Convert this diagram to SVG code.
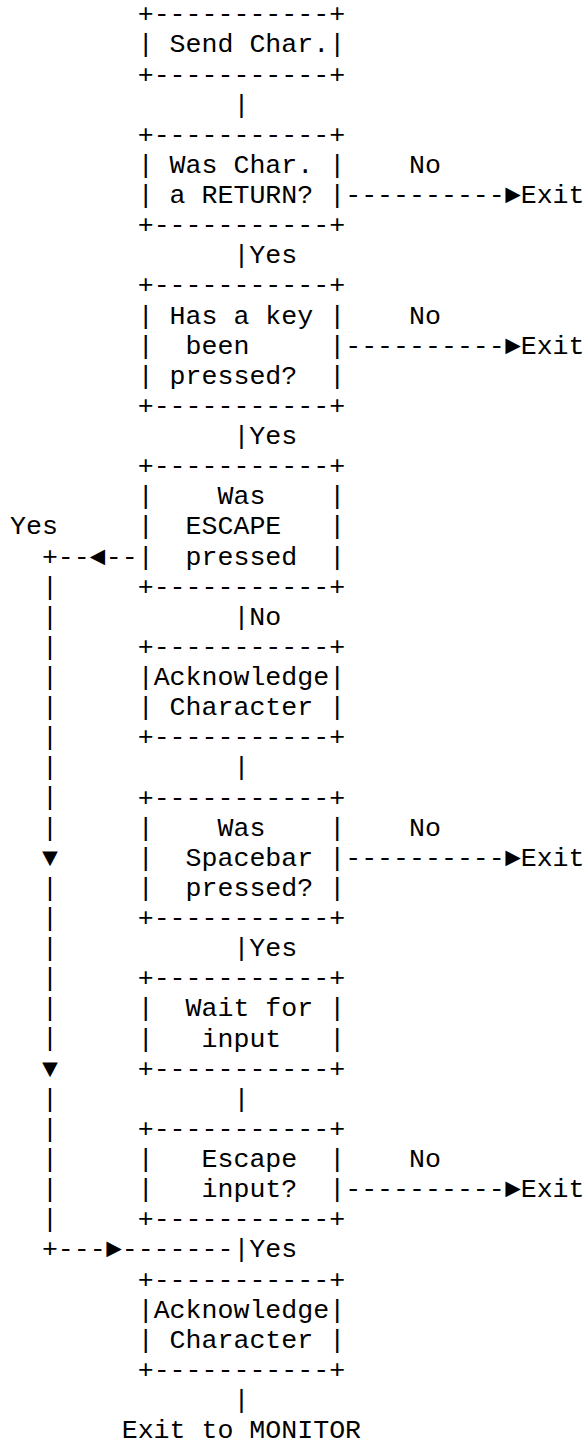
<svg xmlns="http://www.w3.org/2000/svg" width="588" height="1446" viewBox="0 0 588 1446">
  <style>
    text { font-family: "Liberation Mono", "Courier New", "DejaVu Sans Mono", monospace; font-size: 26.6px; fill: #000; white-space: pre; }
  </style>
  <rect width="588" height="1446" fill="#fff"/>

  <!-- Flowchart boxes: 13-column ASCII frames starting at column 8 (x = 10 + col * 15.96) -->
  <g id="send-char">
    <text x="137.7" y="22.2">+-----------+</text>
    <text x="137.7" y="52.3">| Send Char.|</text>
    <text x="137.7" y="82.5">+-----------+</text>
  </g>

  <g id="was-return">
    <text x="137.7" y="142.7">+-----------+</text>
    <text x="137.7" y="172.8">| Was Char. |</text>
    <text x="137.7" y="203.0">| a RETURN? |</text>
    <text x="137.7" y="233.1">+-----------+</text>
  </g>

  <g id="key-pressed">
    <text x="137.7" y="293.3">+-----------+</text>
    <text x="137.7" y="323.5">| Has a key |</text>
    <text x="137.7" y="353.6">|  been     |</text>
    <text x="137.7" y="383.7">| pressed?  |</text>
    <text x="137.7" y="413.8">+-----------+</text>
  </g>

  <g id="escape-pressed">
    <text x="137.7" y="474.1">+-----------+</text>
    <text x="137.7" y="504.2">|    Was    |</text>
    <text x="137.7" y="534.3">|  ESCAPE   |</text>
    <text x="137.7" y="564.5">|  pressed  |</text>
    <text x="137.7" y="594.6">+-----------+</text>
  </g>

  <g id="acknowledge-1">
    <text x="137.7" y="654.8">+-----------+</text>
    <text x="137.7" y="685.0">|Acknowledge|</text>
    <text x="137.7" y="715.1">| Character |</text>
    <text x="137.7" y="745.2">+-----------+</text>
  </g>

  <g id="spacebar-pressed">
    <text x="137.7" y="805.5">+-----------+</text>
    <text x="137.7" y="835.6">|    Was    |</text>
    <text x="137.7" y="865.7">|  Spacebar |</text>
    <text x="137.7" y="895.8">|  pressed? |</text>
    <text x="137.7" y="926.0">+-----------+</text>
  </g>

  <g id="wait-input">
    <text x="137.7" y="986.2">+-----------+</text>
    <text x="137.7" y="1016.3">|  Wait for |</text>
    <text x="137.7" y="1046.5">|   input   |</text>
    <text x="137.7" y="1076.6">+-----------+</text>
  </g>

  <g id="escape-input">
    <text x="137.7" y="1136.8">+-----------+</text>
    <text x="137.7" y="1167.0">|   Escape  |</text>
    <text x="137.7" y="1197.1">|   input?  |</text>
    <text x="137.7" y="1227.2">+-----------+</text>
  </g>

  <g id="acknowledge-2">
    <text x="137.7" y="1287.5">+-----------+</text>
    <text x="137.7" y="1317.6">|Acknowledge|</text>
    <text x="137.7" y="1347.7">| Character |</text>
    <text x="137.7" y="1377.8">+-----------+</text>
  </g>

  <g id="exit-monitor">
    <text x="121.7" y="1438.1">Exit to MONITOR</text>
  </g>

  <!-- Connectors: centre flow at column 14, exits from column 21, escape loop at column 2 -->
  <g id="connectors">
    <text x="233.4" y="112.6">|</text>
    <text x="233.4" y="263.2">|Yes</text>
    <text x="233.4" y="444.0">|Yes</text>
    <text x="233.4" y="624.7">|No</text>
    <text x="233.4" y="775.3">|</text>
    <text x="233.4" y="956.1">|Yes</text>
    <text x="233.4" y="1106.7">|</text>
    <text x="233.4" y="1408.0">|</text>

    <!-- "No" branches to Exit -->
    <text x="409.0" y="172.8">No</text>
    <text x="345.2" y="203.0">----------<tspan x="504.8">►</tspan><tspan x="520.7">Exit</tspan></text>
    <text x="409.0" y="323.5">No</text>
    <text x="345.2" y="353.6">----------<tspan x="504.8">►</tspan><tspan x="520.7">Exit</tspan></text>
    <text x="409.0" y="835.6">No</text>
    <text x="345.2" y="865.7">----------<tspan x="504.8">►</tspan><tspan x="520.7">Exit</tspan></text>
    <text x="409.0" y="1167.0">No</text>
    <text x="345.2" y="1197.1">----------<tspan x="504.8">►</tspan><tspan x="520.7">Exit</tspan></text>

    <!-- ESCAPE loop down the left side -->
    <text x="10" y="534.3">Yes</text>
    <text x="41.9" y="564.5">+--<tspan x="89.8">◄</tspan><tspan x="105.8">--</tspan></text>
    <text x="41.9" y="594.6">|<tspan x="41.9" dy="30.125">|</tspan><tspan x="41.9" dy="30.125">|</tspan><tspan x="41.9" dy="30.125">|</tspan><tspan x="41.9" dy="30.125">|</tspan><tspan x="41.9" dy="30.125">|</tspan><tspan x="41.9" dy="30.125">|</tspan><tspan x="41.9" dy="30.125">|</tspan><tspan x="41.9" dy="30.125">|</tspan><tspan x="41.9" dy="30.125">▼</tspan><tspan x="41.9" dy="30.125">|</tspan><tspan x="41.9" dy="30.125">|</tspan><tspan x="41.9" dy="30.125">|</tspan><tspan x="41.9" dy="30.125">|</tspan><tspan x="41.9" dy="30.125">|</tspan><tspan x="41.9" dy="30.125">|</tspan><tspan x="41.9" dy="30.125">▼</tspan><tspan x="41.9" dy="30.125">|</tspan><tspan x="41.9" dy="30.125">|</tspan><tspan x="41.9" dy="30.125">|</tspan><tspan x="41.9" dy="30.125">|</tspan><tspan x="41.9" dy="30.125">|</tspan></text>
    <text x="41.9" y="1257.3">+---<tspan x="105.8">►</tspan><tspan x="121.7">-------</tspan><tspan x="233.4">|Yes</tspan></text>
  </g>
</svg>
